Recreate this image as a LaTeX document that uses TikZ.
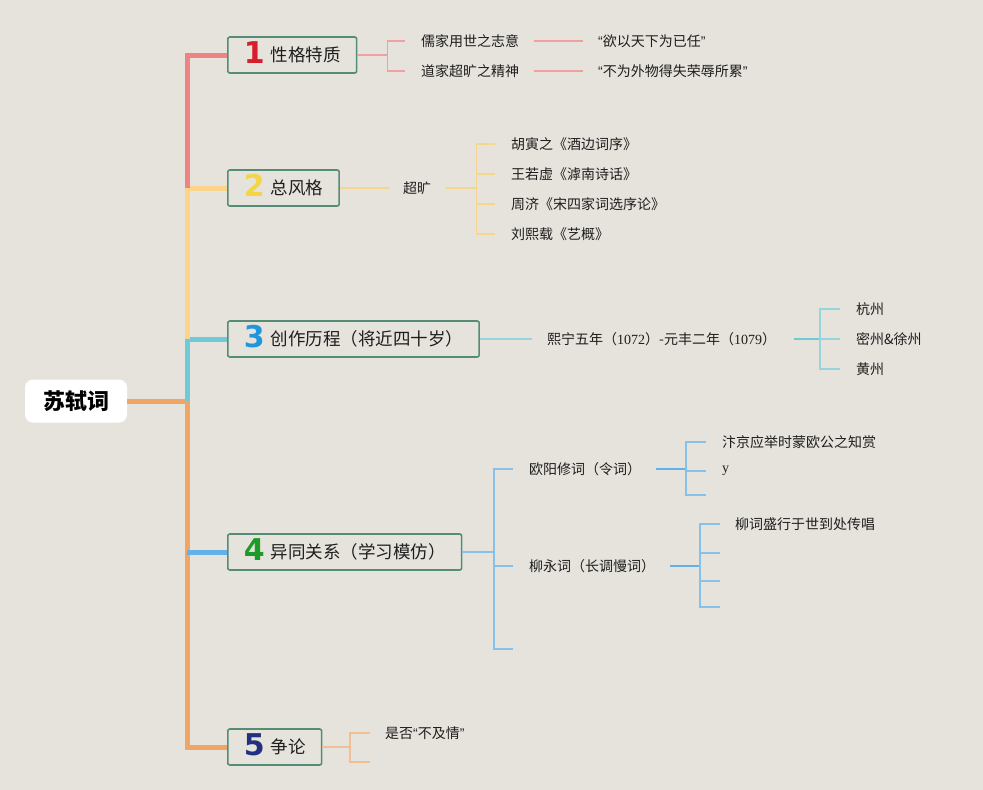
\documentclass[tikz,border=0pt]{standalone}
\usepackage{fontspec}
\setmainfont{Noto Sans CJK SC}
\newfontfamily\serifd{Liberation Serif}
\newfontfamily\quotefont{Liberation Sans}
\newfontfamily\numfont{DejaVu Sans}[BoldFont={DejaVu Sans Bold}]
\usepackage{xcolor}
\usetikzlibrary{
  positioning,
  calc
}
\definecolor{paper}{RGB}{230,227,220}
\definecolor{ink}{RGB}{30,30,30}
\definecolor{boxgreen}{RGB}{84,140,120}
\definecolor{num1}{RGB}{216,30,45}
\definecolor{num2}{RGB}{242,214,72}
\definecolor{num3}{RGB}{33,150,221}
\definecolor{num4}{RGB}{30,154,40}
\definecolor{num5}{RGB}{35,48,127}
\definecolor{trunk1}{RGB}{238,131,131}
\definecolor{trunk2}{RGB}{249,212,138}
\definecolor{trunk3}{RGB}{109,202,214}
\definecolor{trunk4}{RGB}{99,177,235}
\definecolor{trunk5}{RGB}{239,165,102}
\definecolor{twig1}{RGB}{240,160,160}
\definecolor{twig2}{RGB}{246,214,140}
\definecolor{twig3}{RGB}{150,212,222}
\definecolor{twig4}{RGB}{135,192,234}
\definecolor{twig5}{RGB}{242,190,148}
\newcommand\topicnum[2]{\raisebox{-2pt}{\smash{\color{#1}\numfont\bfseries\fontsize{30}{30}\selectfont #2}}\hspace{6pt}}
\newcommand\qo{{\quotefont “}}
\newcommand\qc{{\quotefont ”}}

\begin{document}
\begin{tikzpicture}[x=1pt, y=-1pt,
  topic/.style={draw=boxgreen, line width=1.6pt, rounded corners=2pt, anchor=west,
    inner xsep=16pt, inner ysep=0pt, minimum height=36pt, text=ink, font=\fontsize{17.5}{20}\selectfont},
  leaf/.style={anchor=west, inner sep=0pt, text=ink, font=\fontsize{14}{16}\selectfont},
  trunk/.style={line width=5pt},
  twig/.style={line width=1.8pt}
]
\path[use as bounding box, fill=paper] (0,0) rectangle (983,790);

% root
\node[fill=white, rounded corners=8pt, minimum width=102pt, minimum height=43pt,
      text=black, font=\fontsize{22}{24}\selectfont\bfseries] (root) at (76,401) {苏轼词};
\coordinate (hub) at (187,401);

% topics
\node[topic] (t1) at (227,55)  {\topicnum{num1}{1}性格特质};
\node[topic] (t2) at (227,188) {\topicnum{num2}{2}总风格};
\node[topic] (t3) at (227,339) {\topicnum{num3}{3}创作历程（将近四十岁）};
\node[topic] (t4) at (227,552) {\topicnum{num4}{4}异同关系（学习模仿）};
\node[topic] (t5) at (227,747) {\topicnum{num5}{5}争论};

% trunk
\draw[trunk, trunk5] (root.east) -- (hub) |- (t5.west);
\draw[trunk, trunk3] (hub) |- (t3.west);
\draw[trunk, trunk2] (hub |- t3.west) |- (t2.west);
\draw[trunk, trunk1] (hub |- t2.west) |- (t1.west);
\draw[trunk, trunk4] (hub |- t4.west) -- (t4.west);

% 1
\node[leaf] (a1) at (421,41) {儒家用世之志意};
\node[leaf] (a2) at (421,71) {道家超旷之精神};
\node[leaf] (a1q) at (598,41) {\qo 欲以天下为已任\qc};
\node[leaf] (a2q) at (598,71) {\qo 不为外物得失荣辱所累\qc};
\draw[twig, twig1] (t1.east) -- ++(30,0) coordinate (j1);
\foreach \c in {a1,a2}
  \draw[twig, twig1] (j1) |- ([xshift=-16pt]\c.west);
\draw[twig, twig1] ([xshift=15pt]a1.east) -- ([xshift=-15pt]a1q.west);
\draw[twig, twig1] ([xshift=15pt]a2.east) -- ([xshift=-15pt]a2q.west);

% 2
\node[leaf] (s2) at (403,188) {超旷};
\node[leaf] (b1) at (511,144) {胡寅之《酒边词序》};
\node[leaf] (b2) at (511,174) {王若虚《滹南诗话》};
\node[leaf] (b3) at (511,204) {周济《宋四家词选序论》};
\node[leaf] (b4) at (511,234) {刘熙载《艺概》};
\draw[twig, twig2] (t2.east) -- ([xshift=-13pt]s2.west);
\draw[twig, twig2] ([xshift=15pt]s2.east) -- ++(30,0) coordinate (j2);
\foreach \c in {b1,b2,b3,b4}
  \draw[twig, twig2] (j2) |- ([xshift=-16pt]\c.west);

% 3
\node[leaf] (p3) at (547,339) {熙宁五年（{\serifd 1072}）-元丰二年（{\serifd 1079}）};
\node[leaf] (c1) at (856,309) {杭州};
\node[leaf] (c2) at (856,339) {密州\&徐州};
\node[leaf] (c3) at (856,369) {黄州};
\coordinate (j3) at (820,339);
\draw[twig, twig3] (t3.east) -- ([xshift=-15pt]p3.west);
\draw[twig, trunk3] ([xshift=18pt]p3.east) -- (j3);
\foreach \c in {c1,c2,c3}
  \draw[twig, twig3] (j3) |- ([xshift=-16pt]\c.west);

% 4
\node[leaf] (o4) at (529,469) {欧阳修词（令词）};
\node[leaf] (l4) at (529,566) {柳永词（长调慢词）};
\coordinate (j4) at (494,552);
\coordinate (e4) at (513,649);
\draw[twig, twig4] (t4.east) -- (j4);
\foreach \c in {o4,l4}
  \draw[twig, twig4] (j4) |- ([xshift=-16pt]\c.west);
\draw[twig, twig4] (j4) |- (e4);

\node[leaf] (o41) at (722,442) {汴京应举时蒙欧公之知赏};
\node[leaf] (o42) at (722,471) {{\serifd y}};
\coordinate (jo) at (686,469);
\coordinate (eo) at (706,495);
\draw[twig, trunk4] ([xshift=15pt]o4.east) -- (jo);
\foreach \c in {o41,o42}
  \draw[twig, twig4] (jo) |- ([xshift=-16pt]\c.west);
\draw[twig, twig4] (jo) |- (eo);

\node[leaf] (l41) at (735,524) {柳词盛行于世到处传唱};
\coordinate (jl) at (700,566);
\draw[twig, trunk4] ([xshift=15pt]l4.east) -- (jl);
\draw[twig, twig4] (jl) |- ([xshift=-15pt]l41.west);
\foreach \y in {553,581,607}
  \draw[twig, twig4] (jl) |- (720,\y);

% 5
\node[leaf] (d5) at (385,733) {是否\qo 不及情\qc};
\coordinate (j5) at (350,747);
\coordinate (e5) at (370,762);
\draw[twig, twig5] (t5.east) -- (j5);
\draw[twig, twig5] (j5) |- ([xshift=-15pt]d5.west);
\draw[twig, twig5] (j5) |- (e5);
\end{tikzpicture}
\end{document}
